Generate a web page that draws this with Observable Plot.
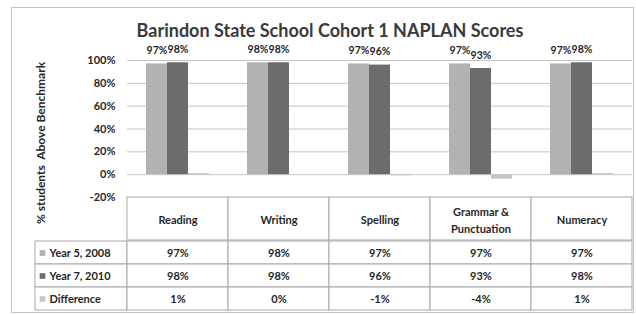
<!DOCTYPE html>
<html>
<head>
<meta charset="utf-8">
<script src="https://cdn.jsdelivr.net/npm/d3@7"></script>
<script src="https://cdn.jsdelivr.net/npm/@observablehq/plot@0.6"></script>
<style>
  html, body { margin: 0; padding: 0; background: #fff; }
  #wrap { position: relative; width: 636px; height: 315px; background: #fff; overflow: hidden; font-family: Lato, "Open Sans", sans-serif; }
  #border { position: absolute; left: 11px; top: 7px; width: 621px; height: 304px; border: 1px solid #c4c4c4; }
  #title { position: absolute; left: 0; width: 660px; top: 19px; text-align: center; font-weight: bold; font-size: 18px; color: #3a3a3a; }
  #wrap svg { position: absolute; overflow: visible; background: transparent; }
</style>
</head>
<body>
<div id="wrap">
  <div id="border"></div>
  <div id="title">Barindon State School Cohort 1 NAPLAN Scores</div>
</div>
<script>
// ---- data ----
const categories = ["Reading", "Writing", "Spelling", "Grammar & Punctuation", "Numeracy"];
const headerLabels = ["Reading", "Writing", "Spelling", "Grammar &\nPunctuation", "Numeracy"];
const seriesNames = ["Year 5, 2008", "Year 7, 2010", "Difference"];
const year5 = [0.97, 0.98, 0.97, 0.97, 0.97];
const year7 = [0.98, 0.98, 0.96, 0.93, 0.98];
const difference = [0.01, 0.00, -0.01, -0.04, 0.01];
const yTicks = [-0.2, 0, 0.2, 0.4, 0.6, 0.8, 1.0];
const yLabel = "% students  Above Benchmark";
const colors = ["#b2b2b2", "#6c6c6c", "#c6c6c6"];

const seriesValues = [year5, year7, difference];
const rows = [];
categories.forEach((c, i) => {
  seriesNames.forEach((s, j) => rows.push({category: c, series: s, value: seriesValues[j][i]}));
});
const pct = d3.formatLocale({decimal: ".", thousands: ",", grouping: [3], currency: ["$", ""], minus: "-"}).format(".0%");
const font = "Lato, 'Open Sans', sans-serif";
const textColor = "#262626";
const grid = "#c4c4c4";
const tableLine = "#a8a8a8";

const wrap = document.getElementById("wrap");
function place(el, left, top) {
  el.style.left = left + "px";
  el.style.top = top + "px";
  wrap.appendChild(el);
}

// ---- chart ----
const chart = Plot.plot({
  width: 636, height: 197,
  marginTop: 60, marginBottom: 0, marginLeft: 127, marginRight: 4,
  style: {fontFamily: font, background: "transparent", overflow: "visible"},
  fx: {domain: categories, padding: 0, axis: null},
  x: {domain: seriesNames, paddingInner: 0, paddingOuter: 0.8, axis: null},
  y: {domain: [-0.2, 1], axis: null},
  color: {domain: seriesNames, range: colors},
  marks: [
    Plot.ruleY(yTicks, {stroke: grid, strokeWidth: 1}),
    Plot.barY(rows, {fx: "category", x: "series", y: "value", fill: "series"}),
    Plot.text(rows.filter(d => d.series !== "Difference"), {
      fx: "category", x: "series", y: "value", text: d => pct(d.value),
      dy: -13, fontSize: 10.5, fontWeight: "bold", fill: textColor
    }),
    Plot.axisY({ticks: yTicks, tickFormat: pct, tickSize: 0, tickPadding: 12, fontSize: 11, fontWeight: "bold", fill: textColor, label: null, line: true, stroke: tableLine}),
    Plot.text([yLabel], {
      fx: () => categories[0], frameAnchor: "left", textAnchor: "middle", rotate: -90, dx: -86, dy: 14,
      fontSize: 12, fontWeight: "bold", fill: textColor
    })
  ]
});
place(chart, 0, 0);

// ---- table header (category axis) ----
const header = Plot.plot({
  width: 505, height: 43, margin: 0,
  style: {fontFamily: font, background: "transparent", overflow: "visible"},
  x: {domain: categories, padding: 0, axis: null},
  marks: [
    Plot.cell(categories, {x: d => d, fill: "white", stroke: tableLine}),
    Plot.text(categories, {x: d => d, text: (d, i) => headerLabels[i], frameAnchor: "middle", lineHeight: 1.5, fontSize: 11, fontWeight: "bold", fill: textColor})
  ]
});
place(header, 127, 197);

// ---- table legend column ----
const labelCol = Plot.plot({
  width: 92, height: 71, margin: 0,
  style: {fontFamily: font, background: "transparent", overflow: "visible"},
  y: {domain: seriesNames, padding: 0, axis: null},
  color: {domain: seriesNames, range: colors},
  marks: [
    Plot.cell(seriesNames, {y: d => d, fill: "white", stroke: tableLine}),
    Plot.dot(seriesNames, {y: d => d, frameAnchor: "left", dx: 7, symbol: "square", r: 3.2, fill: d => d}),
    Plot.text(seriesNames, {y: d => d, frameAnchor: "left", dx: 14, textAnchor: "start", fontSize: 11, fontWeight: "bold", fill: textColor})
  ]
});
place(labelCol, 35, 240);

// ---- table values ----
const values = Plot.plot({
  width: 505, height: 71, margin: 0,
  style: {fontFamily: font, background: "transparent", overflow: "visible"},
  x: {domain: categories, padding: 0, axis: null},
  y: {domain: seriesNames, padding: 0, axis: null},
  marks: [
    Plot.cell(rows, {x: "category", y: "series", fill: "white", stroke: tableLine}),
    Plot.text(rows, {x: "category", y: "series", text: d => pct(d.value), fontSize: 11, fontWeight: "bold", fill: textColor})
  ]
});
place(values, 127, 240);
</script>
</body>
</html>
